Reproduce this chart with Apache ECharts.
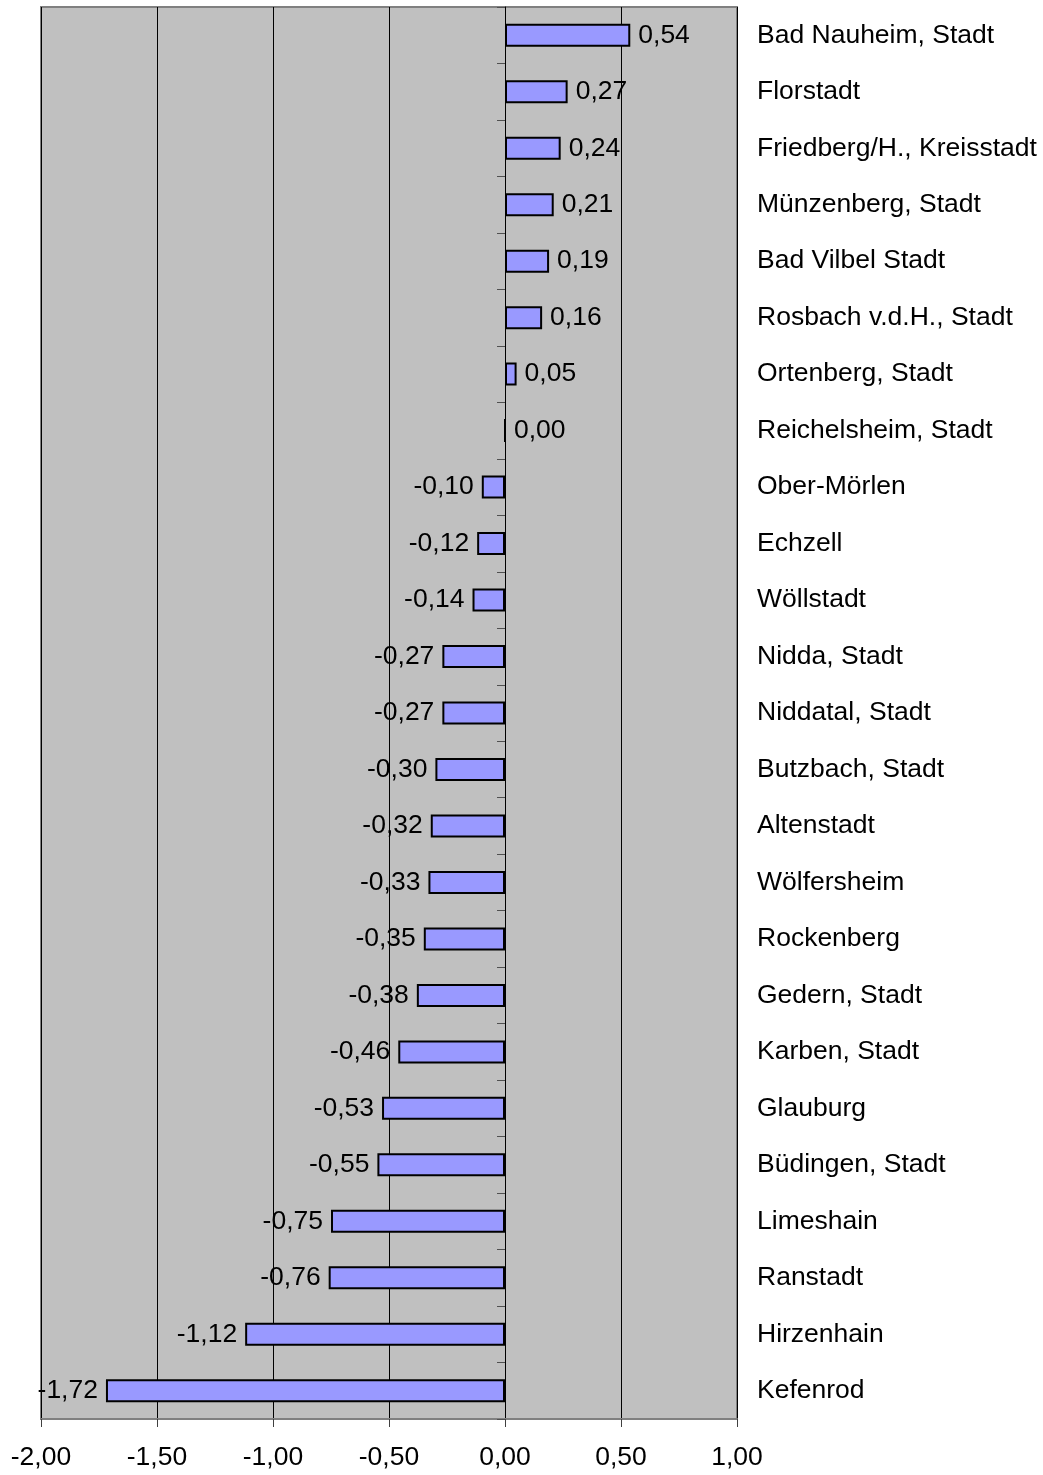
<!DOCTYPE html>
<html>
<head>
<meta charset="utf-8">
<script src="https://cdn.jsdelivr.net/npm/echarts@6/dist/echarts.min.js"></script>
<style>
html,body{margin:0;padding:0;background:#fff;}
#chart{width:1043px;height:1475px;}
</style>
</head>
<body>
<div id="chart"></div>
<script>
var categories = ["Bad Nauheim, Stadt","Florstadt","Friedberg/H., Kreisstadt","Münzenberg, Stadt","Bad Vilbel Stadt","Rosbach v.d.H., Stadt","Ortenberg, Stadt","Reichelsheim, Stadt","Ober-Mörlen","Echzell","Wöllstadt","Nidda, Stadt","Niddatal, Stadt","Butzbach, Stadt","Altenstadt","Wölfersheim","Rockenberg","Gedern, Stadt","Karben, Stadt","Glauburg","Büdingen, Stadt","Limeshain","Ranstadt","Hirzenhain","Kefenrod"];
var values = [0.54,0.27,0.24,0.21,0.19,0.16,0.05,0.00,-0.10,-0.12,-0.14,-0.27,-0.27,-0.30,-0.32,-0.33,-0.35,-0.38,-0.46,-0.53,-0.55,-0.75,-0.76,-1.12,-1.72];
var xTicks = {min:-2, max:1, interval:0.5};

function fmt(v){ return Number(v).toFixed(2).replace('.', ','); }

var chart = echarts.init(document.getElementById('chart'));
var font = 'Liberation Sans, Arial, sans-serif';
chart.setOption({
  animation:false,
  backgroundColor:'#ffffff',
  grid:{left:41,right:306,top:7,bottom:56,show:true,backgroundColor:'#c0c0c0',borderColor:'#808080',borderWidth:2},
  xAxis:{
    type:'value',min:xTicks.min,max:xTicks.max,interval:xTicks.interval,
    axisLine:{show:true,lineStyle:{color:'#808080',width:2}},
    axisTick:{show:true,length:8,lineStyle:{color:'#404040',width:1}},
    splitLine:{show:true,lineStyle:{color:'#000000',width:1}},
    axisLabel:{formatter:fmt,fontFamily:font,fontSize:26.5,color:'#000',margin:25}
  },
  yAxis:[{
    type:'category',data:categories,inverse:true,position:'left',
    axisLine:{show:true,onZero:true,lineStyle:{color:'#000',width:1}},
    axisTick:{show:true,length:8,lineStyle:{color:'#505050',width:1}},
    axisLabel:{show:false},
    splitLine:{show:false}
  },{
    type:'category',data:categories,inverse:true,position:'right',
    axisLine:{show:false},axisTick:{show:false},splitLine:{show:false},
    axisLabel:{show:true,align:'left',margin:20,fontFamily:font,fontSize:26.5,color:'#000'}
  }],
  series:[{
    type:'bar',
    yAxisIndex:0,
    barWidth:23,
    itemStyle:{color:'#9999ff',borderColor:'#000',borderWidth:2},
    label:{show:true,fontFamily:font,fontSize:26.5,color:'#000',distance:8,formatter:function(p){return fmt(p.value);}},
    data:values.map(function(v){return {value:v,label:{position:v<0?'left':'right'}};})
  }]
});
</script>
</body>
</html>
